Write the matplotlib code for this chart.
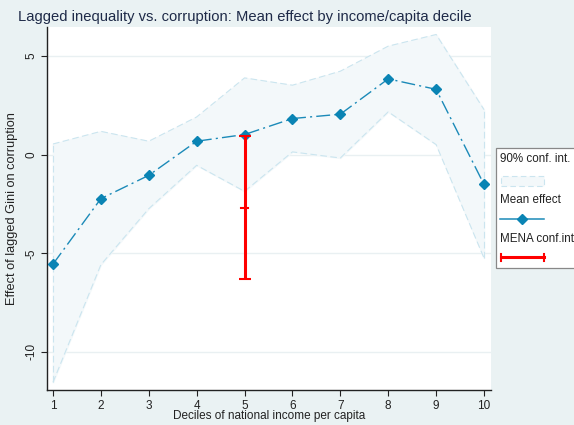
import matplotlib
matplotlib.use("Agg")
import matplotlib.pyplot as plt
from matplotlib.lines import Line2D
from matplotlib.patches import Rectangle

plt.rcParams['font.family'] = ['Liberation Sans', 'DejaVu Sans']

deciles = [1, 2, 3, 4, 5, 6, 7, 8, 9, 10]
mean_effect = [-5.55, -2.23, -1.05, 0.68, 1.02, 1.83, 2.05, 3.84, 3.31, -1.51]
ci_upper = [0.54, 1.18, 0.68, 1.91, 3.89, 3.52, 4.23, 5.50, 6.09, 2.28]
ci_lower = [-11.54, -5.58, -2.74, -0.54, -1.86, 0.14, -0.17, 2.17, 0.51, -5.24]
mena_x = 5
mena_mean = -2.71
mena_low = -6.31
mena_high = 0.96
yticks = [5, 0, -5, -10]
legend_labels = ["90% conf. int.", "Mean effect", "MENA conf.int"]

W, H = 574, 425
fig = plt.figure(figsize=(W / 100, H / 100), dpi=100)
fig.patch.set_facecolor('#eaf2f3')

ax = fig.add_axes([47 / W, (H - 390) / H, (491 - 47) / W, (390 - 27) / H])
ax.set_facecolor('white')

line_col = '#1b8ab8'
ci_edge = '#cbe5ef'
ax.fill_between(deciles, ci_lower, ci_upper, color='#f3f8fa', zorder=1)
ax.plot(deciles, ci_upper, color=ci_edge, lw=0.8, ls=(0, (6, 3)), zorder=2)
ax.plot(deciles, ci_lower, color=ci_edge, lw=0.8, ls=(0, (6, 3)), zorder=2)
ax.plot([deciles[0], deciles[0]], [ci_lower[0], ci_upper[0]], color=ci_edge, lw=0.8, ls=(0, (6, 3)), zorder=2)
ax.plot([deciles[-1], deciles[-1]], [ci_lower[-1], ci_upper[-1]], color=ci_edge, lw=0.8, ls=(0, (6, 3)), zorder=2)

ax.plot(deciles, mean_effect, color=line_col, lw=1.0, ls=(0, (10, 3, 1.5, 3)),
        marker='D', ms=5.5, mfc='#0a84b4', mec='#0a84b4', zorder=4)

ax.errorbar([mena_x], [mena_mean],
            yerr=[[mena_mean - mena_low], [mena_high - mena_mean]],
            fmt='none', ecolor='#ff0000', elinewidth=2.2, capsize=4, capthick=1.5, zorder=5)
ax.plot([mena_x - 0.08, mena_x + 0.08], [mena_mean, mena_mean], color='#ff0000', lw=1.5, zorder=5)

ax.set_xlim(0.875, 10.146)
ax.set_ylim(-11.93, 6.47)
ax.set_xticks(deciles)
ax.set_xticklabels([str(d) for d in deciles])
ax.set_yticks(yticks)
ax.set_yticklabels([str(t) for t in yticks], rotation=90, va='center')
for t in yticks:
    ax.axhline(t, color='#e9f0f2', lw=1.0, zorder=0)

for s in ['top', 'right']:
    ax.spines[s].set_visible(False)
for s in ['left', 'bottom']:
    ax.spines[s].set_color('#222222')
    ax.spines[s].set_linewidth(1.0)
ax.tick_params(axis='both', direction='out', length=4, width=0.8, colors='#222222',
               labelsize=8.5, pad=3)

ax.set_xlabel('Deciles of national income per capita', fontsize=8.5, color='#222222', labelpad=-1)
ax.set_ylabel('Effect of lagged Gini on corruption', fontsize=9.2, color='#222222', labelpad=5)

fig.text(18 / W, 1 - 17 / H, 'Lagged inequality vs. corruption: Mean effect by income/capita decile',
         fontsize=10.6, color='#1e2a48', ha='left', va='center')

# Legend (drawn manually, Stata style: label above key)
def fx(px):
    return px / W

def fy(py):
    return 1 - py / H

fig.patches.append(Rectangle((fx(495.5), fy(268)), fx(600) - fx(495.5), fy(148.5) - fy(268),
                             transform=fig.transFigure, facecolor='white', edgecolor='#888888',
                             lw=0.9, zorder=1))
fs = 8.4
fig.text(fx(500.5), fy(159), legend_labels[0], fontsize=fs, color='#222222', va='center', ha='left', zorder=3)
fig.patches.append(Rectangle((fx(501), fy(186)), fx(544) - fx(501), fy(176) - fy(186),
                             transform=fig.transFigure, facecolor='#f3f8fa', edgecolor=ci_edge,
                             lw=0.8, ls=(0, (5, 3)), zorder=2))
fig.text(fx(500.5), fy(199.5), legend_labels[1], fontsize=fs, color='#222222', va='center', ha='left', zorder=3)
fig.lines.append(Line2D([fx(500), fx(544)], [fy(219.3), fy(219.3)], transform=fig.transFigure,
                        color=line_col, lw=1.1, zorder=3))
fig.lines.append(Line2D([fx(522)], [fy(219.3)], transform=fig.transFigure, marker='D', ms=5.5,
                        mfc='#0a84b4', mec='#0a84b4', ls='none', zorder=4))
fig.text(fx(500.5), fy(238.5), legend_labels[2], fontsize=fs, color='#222222', va='center', ha='left', zorder=3)
fig.lines.append(Line2D([fx(500.5), fx(543.5)], [fy(257.3), fy(257.3)], transform=fig.transFigure,
                        color='#ff0000', lw=2.2, zorder=3))
for xx in (500.5, 543.5):
    fig.lines.append(Line2D([fx(xx), fx(xx)], [fy(253.5), fy(261)], transform=fig.transFigure,
                            color='#ff0000', lw=1.5, zorder=3))

fig.savefig('out.png', dpi=100, facecolor=fig.get_facecolor())
